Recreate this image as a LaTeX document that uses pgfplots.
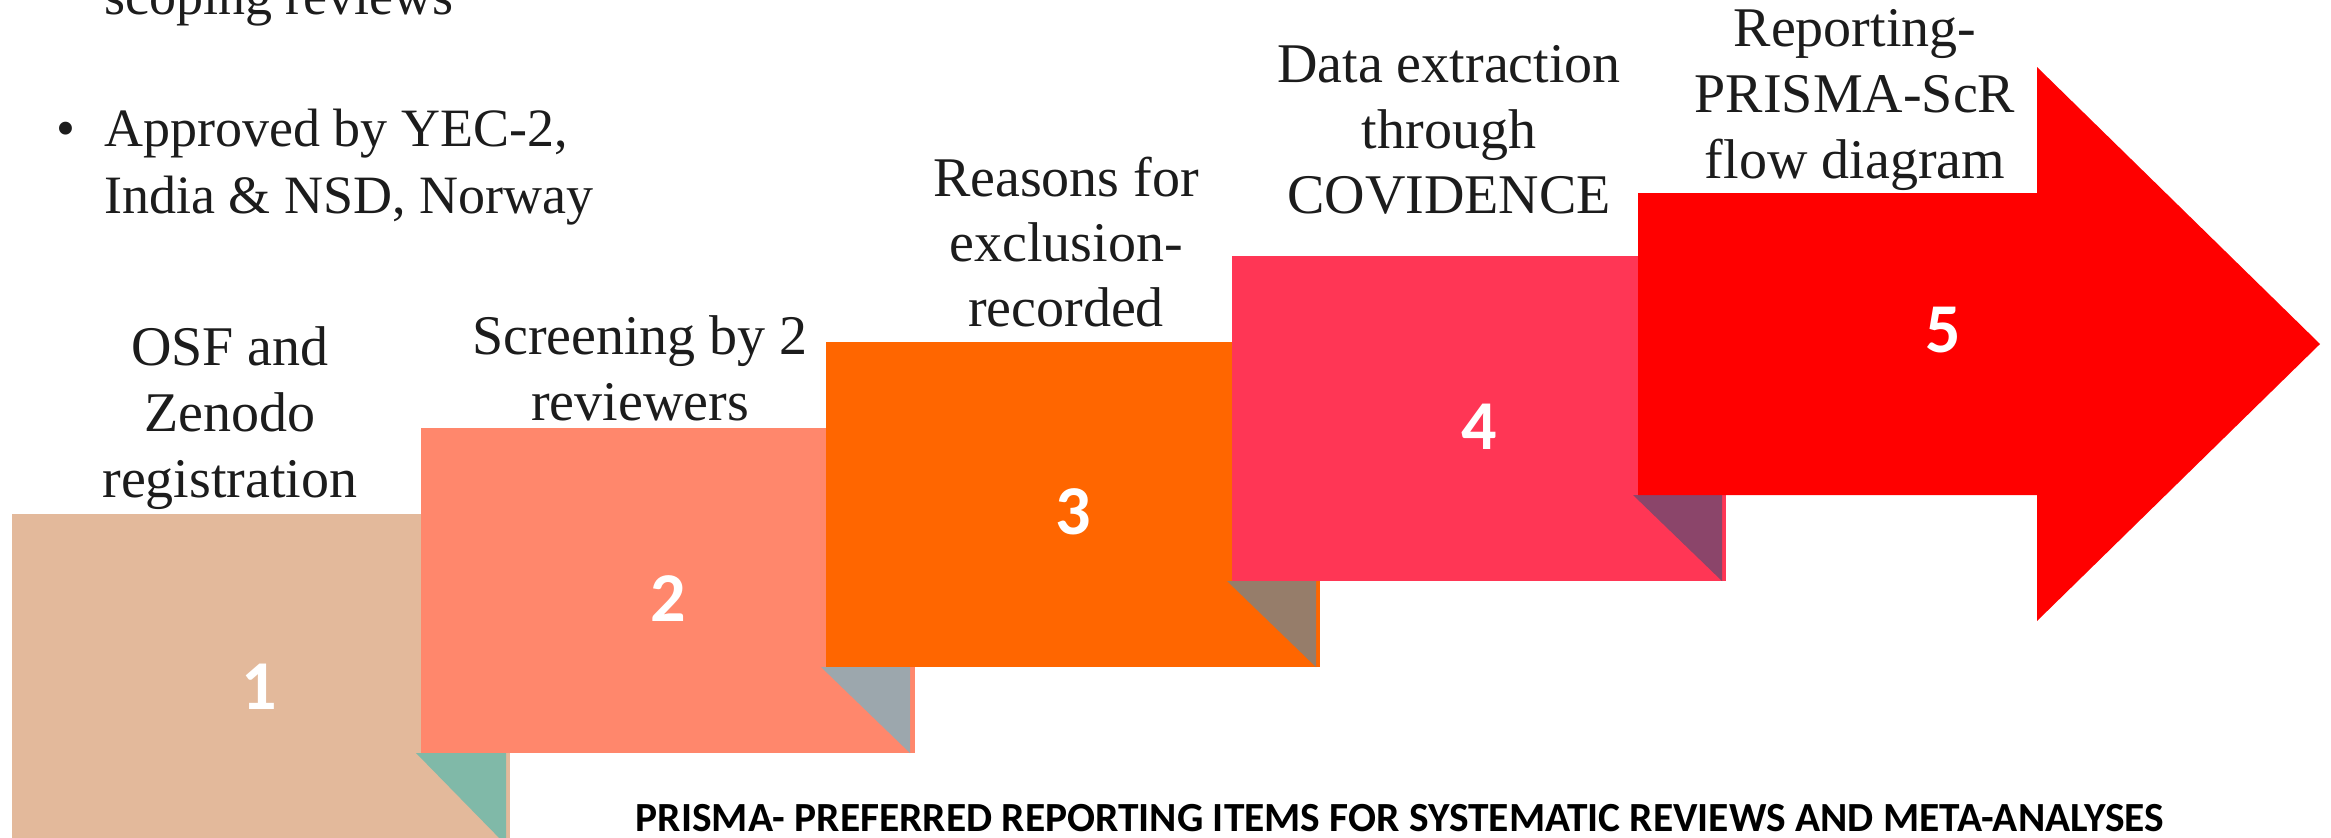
\documentclass[border=0pt]{standalone}
\usepackage{pgfplots}
\pgfplotsset{compat=1.18}
\usepackage{fontspec}
\usepackage{graphicx}
\setmainfont{Liberation Serif}
\newfontfamily\carlito{Carlito}
\definecolor{boxA}{HTML}{E3B99B}
\definecolor{foldA}{HTML}{80B9A8}
\definecolor{boxB}{HTML}{FF876C}
\definecolor{foldB}{HTML}{9CA7AD}
\definecolor{boxC}{HTML}{FF6600}
\definecolor{foldC}{HTML}{967D6A}
\definecolor{boxD}{HTML}{FF3655}
\definecolor{foldD}{HTML}{8B456A}
\definecolor{boxE}{HTML}{FF0000}
\definecolor{txt}{HTML}{1C1C1C}
\newcommand{\lbl}[3]{\node[anchor=base, inner sep=0pt, text=txt, font=\fontsize{28pt}{33pt}\selectfont] at (axis cs:#1,#2) {#3};}
\newcommand{\num}[3]{\node[anchor=center, inner sep=0pt, text=white, font=\carlito\bfseries\fontsize{35pt}{40pt}\selectfont] at (axis cs:#1,#2) {#3};}
\begin{document}
\begin{tikzpicture}
\begin{axis}[scale only axis, width=1165.5pt, height=418.5pt,
  xmin=0, xmax=2331, ymin=0, ymax=837, y dir=reverse,
  hide axis, clip=false, no markers]
\coordinate (ll) at (axis cs:0,837);
\coordinate (ur) at (axis cs:2331,0);
\addplot[fill=white, draw=none] coordinates {(0,0) (2331,0) (2331,837) (0,837)} --cycle;
% box 1
\addplot[fill=boxA, draw=none] coordinates {(12,514) (510,514) (510,845) (12,845)} --cycle;
\addplot[fill=foldA, draw=none] coordinates {(416,753) (506,753) (506,845)} --cycle;
% box 2
\addplot[fill=boxB, draw=none] coordinates {(421,428) (915,428) (915,753) (421,753)} --cycle;
\addplot[fill=foldB, draw=none] coordinates {(821,667) (910,667) (910,753)} --cycle;
% box 3
\addplot[fill=boxC, draw=none] coordinates {(826,342) (1320,342) (1320,667) (826,667)} --cycle;
\addplot[fill=foldC, draw=none] coordinates {(1227,581) (1316,581) (1316,667)} --cycle;
% box 4
\addplot[fill=boxD, draw=none] coordinates {(1232,256) (1726,256) (1726,581) (1232,581)} --cycle;
\addplot[fill=foldD, draw=none] coordinates {(1633,495) (1722,495) (1722,581)} --cycle;
% box 5 arrow
\addplot[fill=boxE, draw=none] coordinates {(1638,193) (2037,193) (2037,67) (2320,344) (2037,621) (2037,495) (1638,495)} --cycle;
% numbers
\num{259}{687}{1}
\num{668}{599}{2}
\num{1073}{512}{3}
\num{1479}{427}{4}
\num{1943}{330}{5}
% labels
\lbl{230}{365}{OSF and}
\lbl{230}{431}{Zenodo}
\lbl{230}{497}{registration}
\lbl{640}{354}{Screening by 2}
\lbl{640}{420}{reviewers}
\lbl{1066}{196}{Reasons for}
\lbl{1066}{261}{exclusion-}
\lbl{1066}{326}{recorded}
\lbl{1449}{82}{Data extraction}
\lbl{1449}{148}{through}
\lbl{1449}{213}{COVIDENCE}
\lbl{1855}{46}{Reporting-}
\lbl{1855}{112}{PRISMA-ScR}
\lbl{1855}{178}{flow diagram}
% bullet text
\node[anchor=base west, inner sep=0pt, text=txt, font=\fontsize{27pt}{33pt}\selectfont] at (axis cs:104,14) {scoping reviews};
\node[anchor=base west, inner sep=0pt, text=txt, font=\fontsize{27pt}{33pt}\selectfont] at (axis cs:56,146) {•};
\node[anchor=base west, inner sep=0pt, text=txt, font=\fontsize{27pt}{33pt}\selectfont] at (axis cs:104,146) {Approved by YEC-2,};
\node[anchor=base west, inner sep=0pt, text=txt, font=\fontsize{27pt}{33pt}\selectfont] at (axis cs:104,213) {India \& NSD, Norway};
% footer
\node[anchor=base, inner sep=0pt, text=black] at (axis cs:1400,831) {\resizebox{764pt}{!}{\carlito\bfseries PRISMA- PREFERRED REPORTING ITEMS FOR SYSTEMATIC REVIEWS AND META-ANALYSES}};
\end{axis}
\pgfresetboundingbox
\path[use as bounding box] (ll) rectangle (ur);
\end{tikzpicture}
\end{document}
